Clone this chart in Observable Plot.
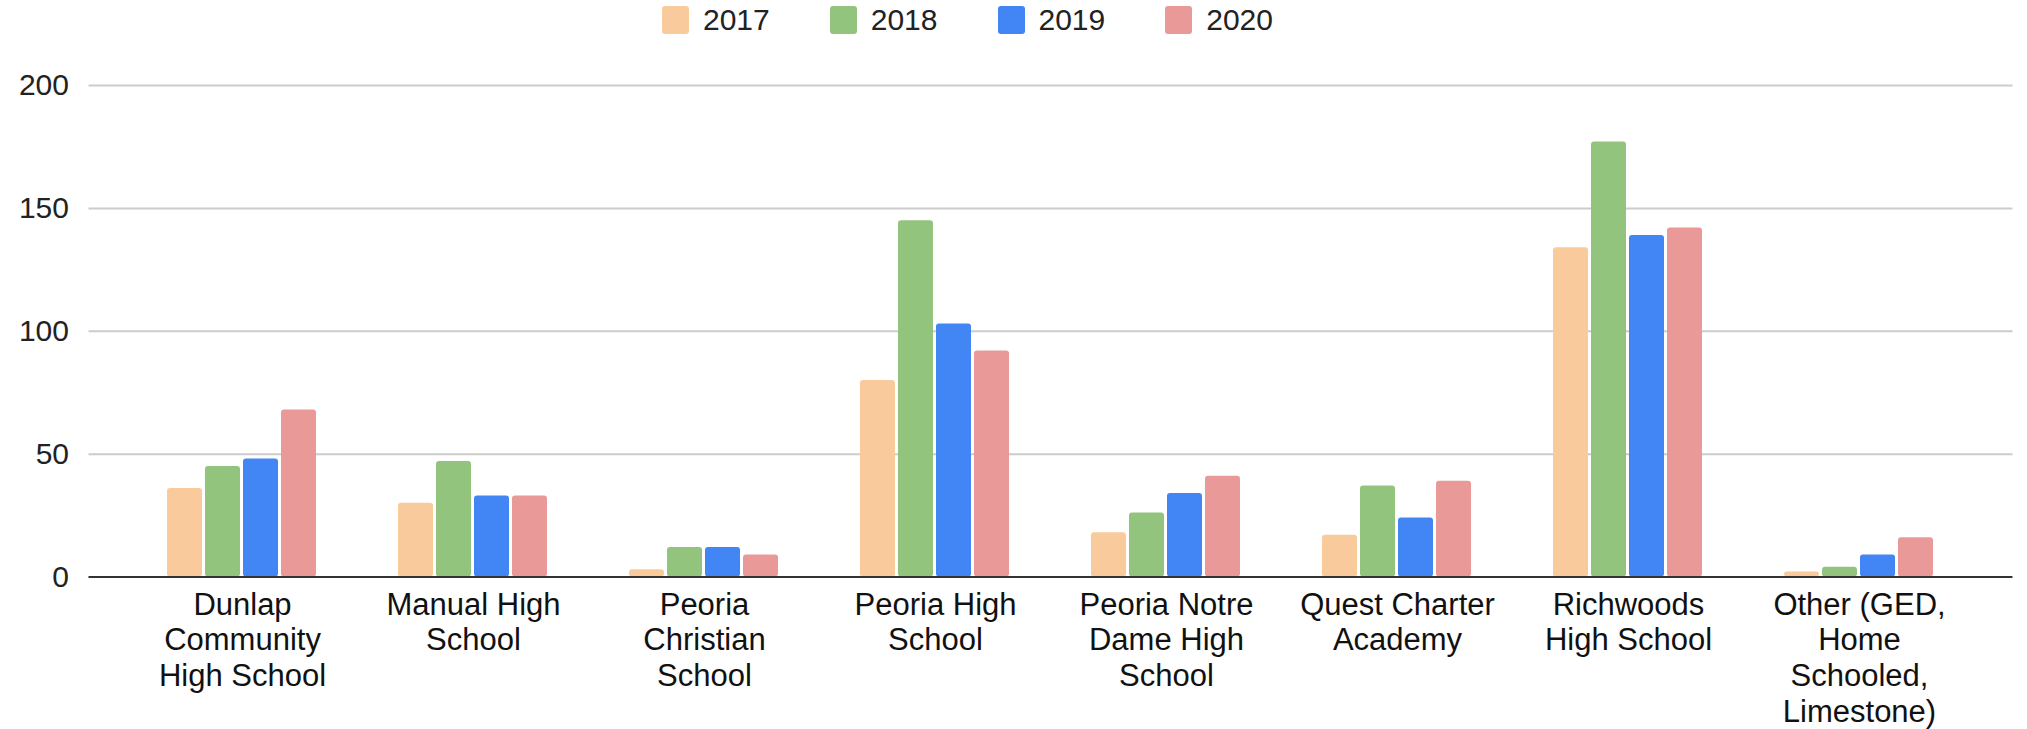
<!DOCTYPE html>
<html><head><meta charset="utf-8">
<script src="https://cdn.jsdelivr.net/npm/d3@7"></script>
<script src="https://cdn.jsdelivr.net/npm/@observablehq/plot@0.6"></script>
<style>
body{margin:0;background:#fff;font-family:"Liberation Sans",Arial,sans-serif;}
#legend{height:40px;display:flex;justify-content:center;align-items:center;gap:60px;padding-right:92px;}
.item{display:flex;align-items:center;gap:14px;font-size:30px;color:#222;}
.sw{width:27px;height:28px;border-radius:3px;}
</style></head><body>
<div id="legend"></div><div id="chart"></div>
<script>
const schools = ["Dunlap Community High School","Manual High School","Peoria Christian School","Peoria High School","Peoria Notre Dame High School","Quest Charter Academy","Richwoods High School","Other (GED, Home Schooled, Limestone)"];
const tickLabels = ["Dunlap\nCommunity\nHigh School","Manual High\nSchool","Peoria\nChristian\nSchool","Peoria High\nSchool","Peoria Notre\nDame High\nSchool","Quest Charter\nAcademy","Richwoods\nHigh School","Other (GED,\nHome\nSchooled,\nLimestone)"];
const years = ["2017","2018","2019","2020"];
const colors = ["#F9CB9C","#93C47D","#4285F4","#EA9999"];
const v2017 = [36,30,3,80,18,17,134,2];
const v2018 = [45,47,12,145,26,37,177,4];
const v2019 = [48,33,12,103,34,24,139,9];
const v2020 = [68,33,9,92,41,39,142,16];
const yTicks = [0,50,100,150,200];

const series = [v2017,v2018,v2019,v2020];
const data = schools.flatMap((s,i)=>years.map((y,j)=>({school:s, year:y, value:series[j][i]})));

const legend = document.getElementById("legend");
years.forEach((y,j)=>{
  const it=document.createElement("div"); it.className="item";
  const sw=document.createElement("div"); sw.className="sw"; sw.style.background=colors[j];
  const t=document.createElement("span"); t.textContent=y;
  it.appendChild(sw); it.appendChild(t); legend.appendChild(it);
});

// layout: frame from 85 to 2010; groups occupy the fx range
const frameL = 85, frameR = 2010, groupL = 163.5, groupR = 1938.5, padIn = 0.349;
const step = (groupR - groupL) / (schools.length - padIn);
const bw = step * (1 - padIn);
const ruleOpts = {facetAnchor:"left", insetLeft: frameL - groupL, insetRight: (groupL + bw) - frameR};

const chart = Plot.plot({
  width:2027, height:689, marginLeft:85, marginRight:17, marginTop:45, marginBottom:152.5,
  style:{fontFamily:"Liberation Sans, Arial, sans-serif", fontSize:"30px", color:"#222", background:"#fff"},
  fx:{domain:schools, range:[groupL, groupR], paddingInner:padIn, paddingOuter:0, label:null},
  x:{domain:years, paddingInner:0.07, paddingOuter:0, axis:null},
  y:{domain:[0,200], ticks:yTicks, label:null},
  color:{domain:years, range:colors},
  marks:[
    Plot.ruleY(yTicks.filter(d=>d>0), {...ruleOpts, stroke:"#cccccc", strokeWidth:2}),
    Plot.axisY(yTicks, {anchor:"left", tickSize:0, tickPadding:groupL-65, fontSize:30, fill:"#222", label:null}),
    Plot.barY(data, {fx:"school", x:"year", y:"value", fill:"year", rx:3}),
    Plot.ruleY([0], {...ruleOpts, stroke:"#333", strokeWidth:2}),
    Plot.axisFx({anchor:"bottom", tickSize:0, tickPadding:12, label:null, fontSize:31, lineHeight:1.16, fill:"#111", tickFormat:d=>tickLabels[schools.indexOf(d)]})
  ]
});
document.getElementById("chart").appendChild(chart);
</script>
</body></html>
